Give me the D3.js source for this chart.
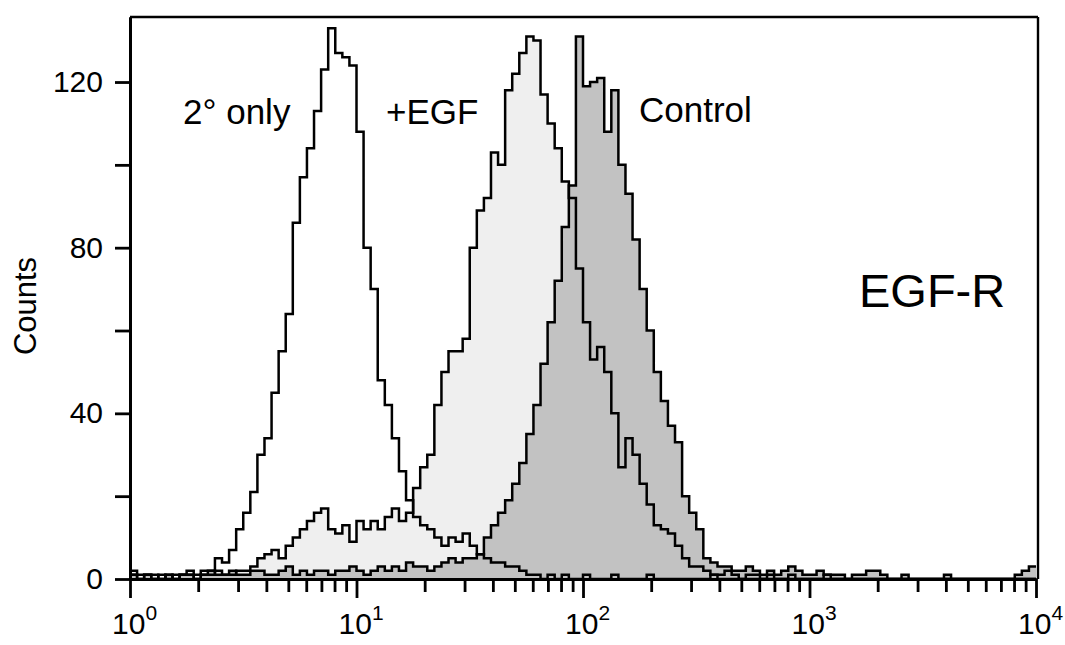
<!DOCTYPE html>
<html><head><meta charset="utf-8">
<script src="https://cdn.jsdelivr.net/npm/d3@7"></script>
<style>
body{margin:0;background:#fff}
svg{display:block}
text{font-family:"Liberation Sans",Arial,Helvetica,sans-serif;fill:#000}
</style>
</head><body>
<svg id="chart" width="1065" height="645"></svg>
<script>
// ---- data (channel counts, 32 channels per decade, 10^0 .. 10^4) ----
const binsPerDecade = 32;
const seriesNames = ["2° only", "+EGF", "Control"];
const secondaryOnly = [
  2,1,1,0,1,0,1,1,2,1,
  2,2,5,4,7,12,16,21,30,34,
  45,55,64,86,97,104,113,123,133,127,
  126,124,108,80,70,48,42,34,26,19,
  15,13,12,10,8,10,9,11,8,6,
  5,4,4,3,3,2,1,1,0,1,
  0,1,0,0,1,0,0,0,1,0,
  0,0,0,1,0,0,0,0,0,0,
  0,0,1,0,0,0,0,0,0,0,
  0,0,0,0,0,0,0,0,0,0,
  0,0,0,0,0,0,0,0,0,0,
  0,0,0,0,0,0,0,0,0,0,
  0,0,0,0,0,0,0,0
];
const plusEGF = [
  1,0,1,1,0,1,0,1,1,0,
  1,1,2,1,1,2,2,3,5,6,
  7,5,8,10,12,14,16,17,12,11,
  13,9,14,12,14,12,15,17,14,16,
  22,27,30,42,50,55,55,58,80,89,
  92,103,100,118,122,127,131,130,117,110,
  104,96,92,75,62,53,56,50,40,27,
  34,30,23,18,13,12,11,8,5,3,
  3,2,1,1,2,1,0,1,1,0,
  1,0,0,1,0,0,0,0,1,0,
  0,0,0,0,0,0,0,0,0,0,
  0,0,0,0,0,0,0,0,0,0,
  0,0,0,0,0,0,0,0
];
const controlCounts = [
  1,0,1,0,0,1,0,1,1,0,
  1,2,1,1,2,1,1,2,2,1,
  1,2,3,1,2,1,2,2,1,2,
  2,3,2,1,2,3,2,3,2,4,
  3,3,2,3,4,5,4,5,5,6,
  10,13,16,19,23,28,35,42,52,62,
  72,85,95,131,119,120,121,108,118,100,
  93,82,70,60,50,43,37,33,20,16,
  12,5,4,3,3,2,2,3,2,1,
  2,1,2,3,2,1,1,2,1,1,
  1,0,1,1,2,2,1,0,0,1,
  0,0,0,0,0,1,0,0,0,0,
  0,0,0,0,0,1,2,3
];
const yMajorTicks = [0, 40, 80, 120];
const yMinorTicks = [20, 60, 100];
const xMajorTicks = [1, 10, 100, 1000, 10000];
const xTickExponents = ["0", "1", "2", "3", "4"];
const yTitle = "Counts";
const panelTitle = "EGF-R";

// ---- layout ----
const svg = d3.select("#chart");
const x = d3.scaleLog().domain([1, 1e4]).range([130, 1036]);
const y = d3.scaleLinear().domain([0, 135.7]).range([579, 17]);
const xMinorTicks = [];
[1, 10, 100, 1000].forEach(d => { for (let k = 2; k <= 9; k++) xMinorTicks.push(d * k); });

function toPoints(values) {
  const pts = values.map((c, i) => ({ v: Math.pow(10, i / binsPerDecade), c }));
  pts.push({ v: 1e4, c: values[values.length - 1] });
  return pts;
}
const area = d3.area().curve(d3.curveStepAfter).x(d => x(d.v)).y0(y(0)).y1(d => y(d.c));
const line = d3.line().curve(d3.curveStepAfter).x(d => x(d.v)).y(d => y(d.c));

svg.append("clipPath").attr("id", "plot").append("rect")
  .attr("x", x(1)).attr("y", y.range()[1]).attr("width", x(1e4) - x(1)).attr("height", y(0) - y.range()[1]);

const g = svg.append("g").attr("clip-path", "url(#plot)");
g.append("path").datum(toPoints(plusEGF)).attr("d", area).attr("fill", "#efefef");
g.append("path").datum(toPoints(controlCounts)).attr("d", area).attr("fill", "#c2c2c2");
[secondaryOnly, plusEGF, controlCounts].forEach(s => {
  g.append("path").datum(toPoints(s)).attr("d", line)
    .attr("fill", "none").attr("stroke", "#000").attr("stroke-width", 2.5);
});

// ---- axes ----
function styleAxis(sel) {
  sel.selectAll("path.domain").attr("stroke", "#000").attr("stroke-width", 3);
  sel.selectAll(".tick line").attr("stroke", "#000").attr("stroke-width", 2.8);
}
const yMinorAxis = svg.append("g").attr("transform", `translate(${x(1)},0)`)
  .call(d3.axisLeft(y).tickValues(yMinorTicks).tickSize(15).tickSizeOuter(0).tickFormat(""));
styleAxis(yMinorAxis);
const yAxis = svg.append("g").attr("transform", `translate(${x(1)},0)`)
  .call(d3.axisLeft(y).tickValues(yMajorTicks).tickSize(15).tickSizeOuter(0).tickPadding(12));
styleAxis(yAxis);
yAxis.selectAll(".tick text").attr("font-size", 30).attr("font-family", "Liberation Sans, Arial, sans-serif");

const xMinorAxis = svg.append("g").attr("transform", `translate(0,${y(0)})`)
  .call(d3.axisBottom(x).tickValues(xMinorTicks).tickSize(13).tickSizeOuter(0).tickFormat(""));
styleAxis(xMinorAxis);
const xAxis = svg.append("g").attr("transform", `translate(0,${y(0)})`)
  .call(d3.axisBottom(x).tickValues(xMajorTicks).tickSize(19).tickSizeOuter(0).tickFormat(""));
styleAxis(xAxis);
xMajorTicks.forEach((v, i) => {
  const t = svg.append("text").attr("x", x(v) - 18).attr("y", 634).attr("font-size", 30);
  t.append("tspan").text("10");
  t.append("tspan").attr("dy", -14).attr("font-size", 21).text(xTickExponents[i]);
});

// frame (top and right)
svg.append("line").attr("x1", x(1)).attr("x2", x(1e4) + 2).attr("y1", y.range()[1]).attr("y2", y.range()[1])
  .attr("stroke", "#000").attr("stroke-width", 2.6);
svg.append("line").attr("x1", x(1e4) + 2).attr("x2", x(1e4) + 2).attr("y1", y.range()[1]).attr("y2", y(0))
  .attr("stroke", "#000").attr("stroke-width", 2.4);

// ---- text ----
svg.append("text").attr("transform", "translate(36,306) rotate(-90)")
  .attr("text-anchor", "middle").attr("font-size", 31).text(yTitle);
svg.append("text").attr("x", 183).attr("y", 124).attr("font-size", 35).text(seriesNames[0]);
svg.append("text").attr("x", 386).attr("y", 124).attr("font-size", 35).text(seriesNames[1]);
svg.append("text").attr("x", 639).attr("y", 122).attr("font-size", 35).text(seriesNames[2]);
svg.append("text").attr("x", 859).attr("y", 307).attr("font-size", 47).text(panelTitle);
</script>
</body></html>
